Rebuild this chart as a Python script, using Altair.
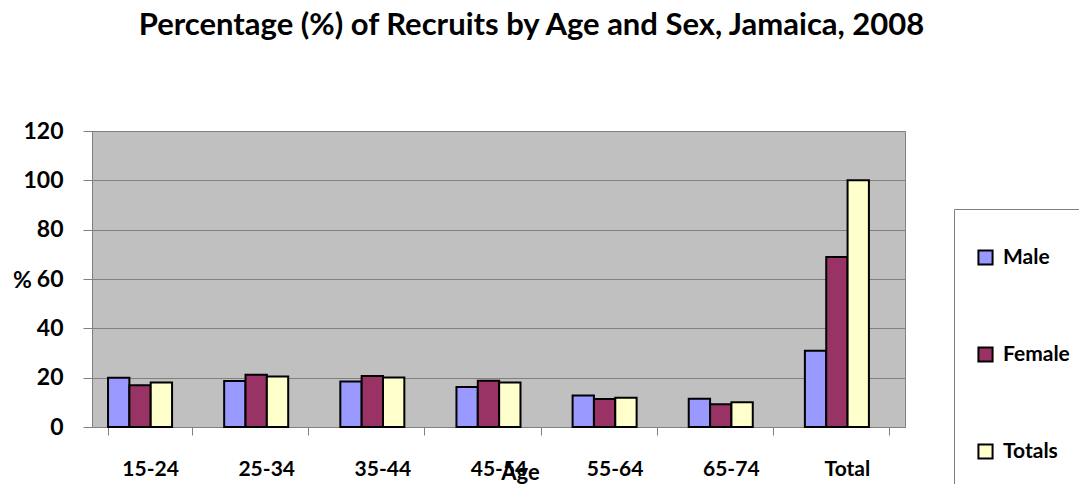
import altair as alt
import pandas as pd

ages = ["15-24", "25-34", "35-44", "45-54", "55-64", "65-74", "Total"]
series = ["Male", "Female", "Totals"]
male = [20.0, 18.6, 18.4, 16.2, 12.8, 11.5, 30.9]
female = [16.9, 21.2, 20.7, 18.8, 11.4, 9.2, 68.9]
totals = [18.0, 20.5, 20.1, 18.0, 11.9, 10.0, 100.0]
colors = ["#9999FF", "#993366", "#FFFFCC"]

rows = []
for s, vals in zip(series, [male, female, totals]):
    for a, v in zip(ages, vals):
        rows.append({"Age": a, "Series": s, "Value": v})
df = pd.DataFrame(rows)

FONT = "Lato"

chart = alt.Chart(df).mark_bar(stroke="black", strokeWidth=2).encode(
    x=alt.X("Age:N", sort=ages,
            scale=alt.Scale(paddingInner=0.276, paddingOuter=0.138),
            axis=alt.Axis(title="Age", labelAngle=0, tickBand="extent",
                          tickSize=8, tickColor="#808080", domainColor="#808080",
                          labelPadding=23, labelFontSize=21, labelFontWeight="bold",
                          labelFont=FONT, labelColor="black",
                          titleFont=FONT, titleFontSize=22, titleFontWeight="bold",
                          titleColor="black", titleX=428, titleY=52,
                          titleBaseline="alphabetic", titleAlign="center")),
    xOffset=alt.XOffset("Series:N", sort=series,
                        scale=alt.Scale(paddingInner=0, paddingOuter=0.47, align=0)),
    y=alt.Y("Value:Q", scale=alt.Scale(domain=[0, 120]),
            axis=alt.Axis(title="%", values=[0, 20, 40, 60, 80, 100, 120],
                          tickSize=9, tickColor="#808080", domainColor="#808080",
                          gridColor="#808080", gridWidth=1,
                          labelPadding=20, labelFontSize=23, labelFontWeight="bold",
                          labelFont=FONT, labelColor="black",
                          titleAngle=0, titleX=-70, titleY=149, titleAlign="center",
                          titleBaseline="middle", titleFont=FONT, titleFontSize=23,
                          titleFontWeight="bold", titleColor="black")),
    color=alt.Color("Series:N", sort=series,
                    scale=alt.Scale(domain=series, range=colors),
                    legend=alt.Legend(title=" ", titleFontSize=14, titlePadding=3,
                                      orient="none", legendX=862, legendY=78,
                                      padding=21, rowPadding=74,
                                      strokeColor="#808080", fillColor="white",
                                      symbolType="square", symbolSize=200,
                                      symbolStrokeColor="black", symbolStrokeWidth=2,
                                      labelFont=FONT, labelFontSize=21,
                                      labelFontWeight="bold", labelColor="black",
                                      labelOffset=7)),
).properties(
    width=813, height=296,
    title=alt.TitleParams("Percentage (%) of Recruits by Age and Sex, Jamaica, 2008",
                          font=FONT, fontSize=31, fontWeight="bold", color="black",
                          anchor="middle", dx=33, offset=78),
    autosize=alt.AutoSizeParams(type="none"),
    padding={"left": 84, "top": 123, "right": 174, "bottom": 57},
    background="white",
).configure_view(
    fill="#C0C0C0", stroke="#808080", strokeWidth=1
)

chart.save("out.html", embed_options={"renderer": "svg", "actions": False})
